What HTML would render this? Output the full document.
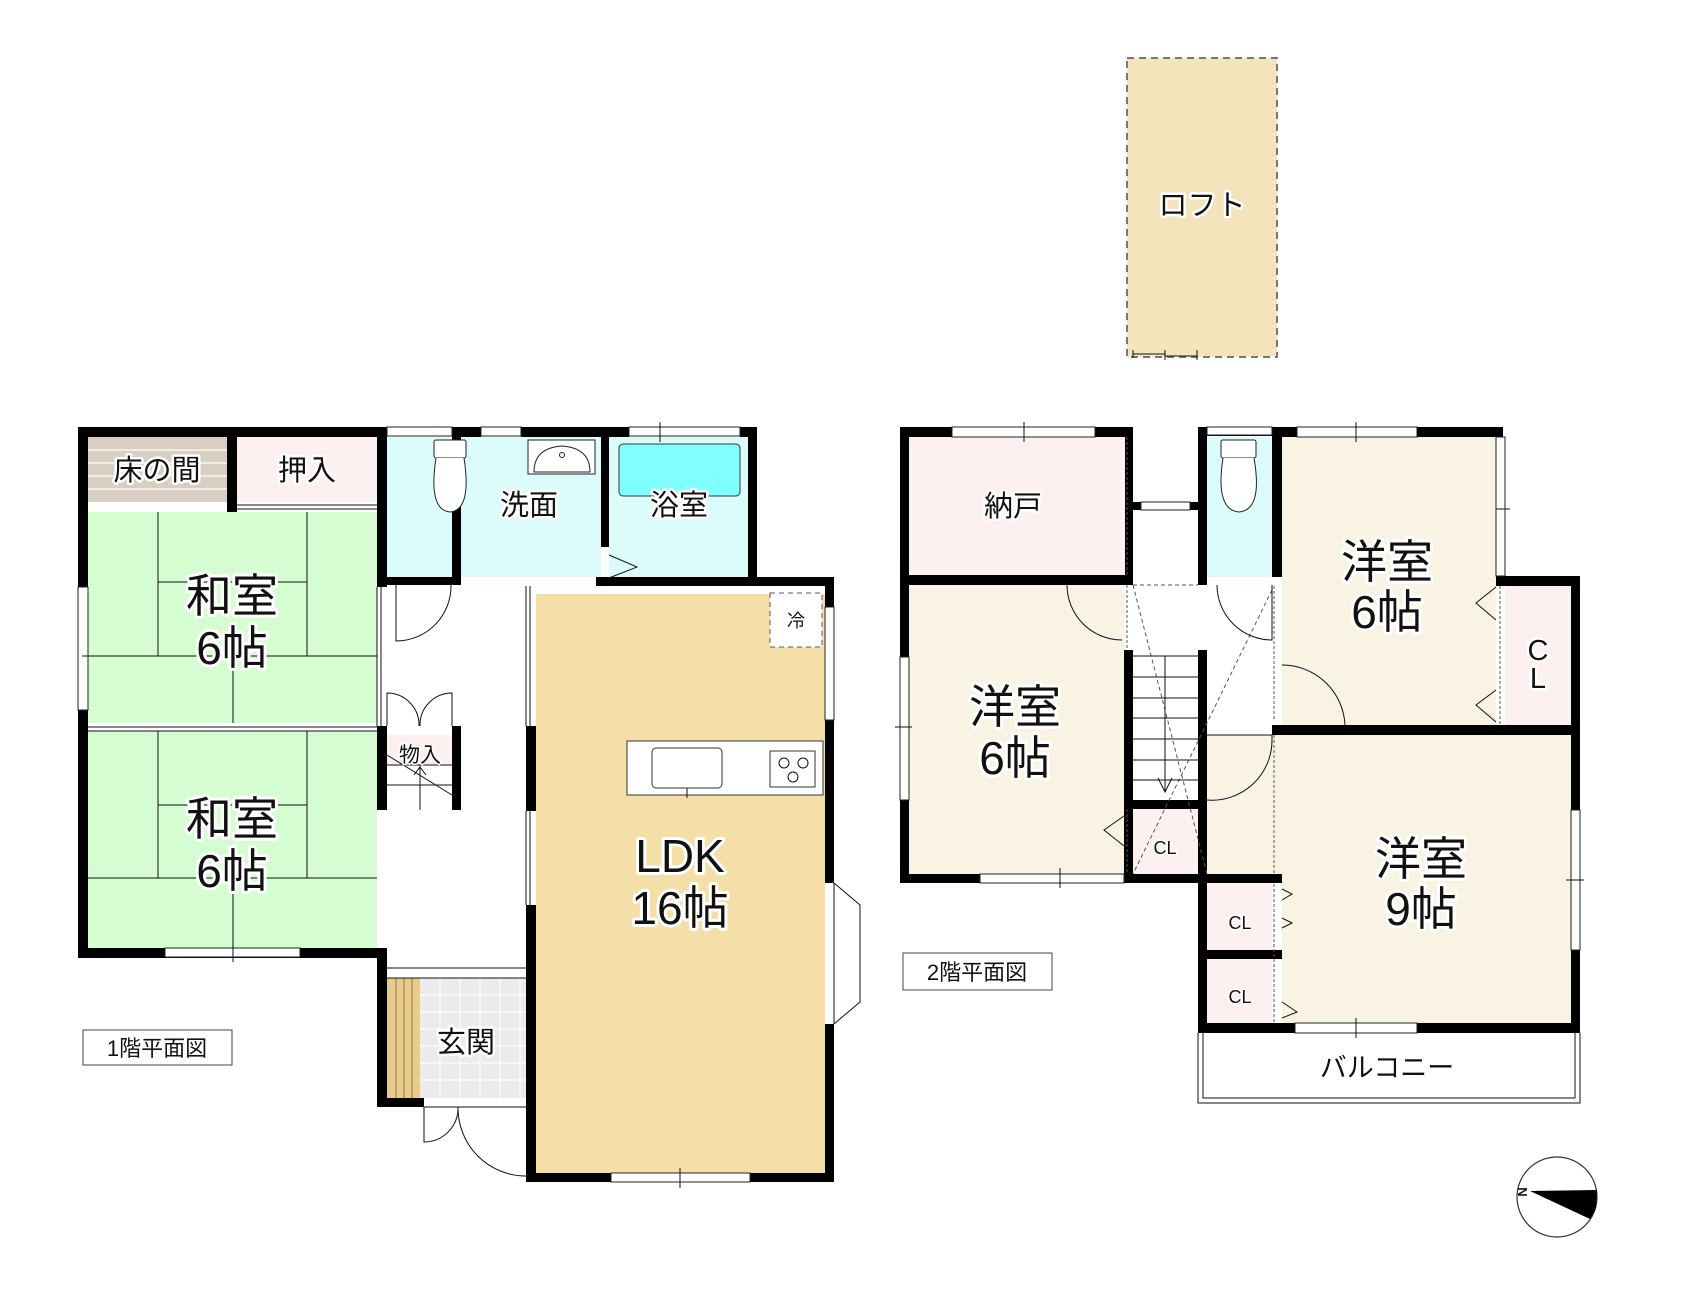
<!DOCTYPE html>
<html><head><meta charset="utf-8"><style>
html,body{margin:0;padding:0;background:#fff}
svg{display:block}
text{font-family:"Liberation Sans","Noto Sans CJK JP",sans-serif;fill:#111;paint-order:stroke;stroke:#fff;stroke-linejoin:round}
.big{font-size:46px;stroke-width:6px}
.mid{font-size:29px;stroke-width:5px}
.sm{font-size:21px;stroke-width:3px}
.lbl{font-size:22px;stroke:none}
.w{fill:#000}
.ln{stroke:#222;stroke-width:1.5;fill:none}
.th{stroke:#111;stroke-width:1;fill:none}
</style></head><body>
<svg width="1682" height="1305" viewBox="0 0 1682 1305" xmlns="http://www.w3.org/2000/svg">
<!-- LOFT -->
<rect x="1127" y="58" width="150" height="299" fill="#f4e4bc" stroke="#777" stroke-width="2" stroke-dasharray="7,5"/>
<path d="M1133 350 V358 M1133 354 H1165 M1165 350 V360 M1165 356 H1197 M1197 350 V360" class="th"/>
<text x="1202" y="215" class="mid" text-anchor="middle">ロフト</text>

<!-- ===== FLOOR 1 ===== -->
<!-- fills -->
<rect x="87" y="437" width="140" height="65" fill="#d8cfc2"/>
<path d="M87 450H227 M87 463H227 M87 476H227 M87 489H227" stroke="#f0ece6" stroke-width="2"/>
<rect x="237" y="437" width="140" height="65" fill="#fdf0f0"/>
<rect x="87" y="502" width="290" height="10" fill="#fff"/>
<rect x="87" y="512" width="290" height="211" fill="#d6fcd2"/>
<rect x="87" y="731" width="290" height="219" fill="#d6fcd2"/>
<rect x="387" y="437" width="65" height="140" fill="#dcfcfc"/>
<rect x="461" y="437" width="140" height="140" fill="#dcfcfc"/>
<rect x="609" y="437" width="139" height="140" fill="#dcfcfc"/>
<rect x="536" y="594" width="289" height="579" fill="#f5dfa8"/>
<rect x="420" y="978" width="106" height="120" fill="#ebebeb"/>
<path d="M440 978V1098 M460 978V1098 M480 978V1098 M500 978V1098 M520 978V1098 M420 995H526 M420 1012H526 M420 1029H526 M420 1046H526 M420 1063H526 M420 1080H526" stroke="#fafafa" stroke-width="1.5"/>
<rect x="387" y="978" width="33" height="120" fill="#e9cc8a"/>
<path d="M396 978V1098 M404 978V1098 M412 978V1098" stroke="#8a7a50" stroke-width="1"/>
<rect x="387" y="735" width="65" height="30" fill="#fdf0f0"/>
<!-- tatami lines -->
<path d="M158 512V656 M307 512V656 M158 582H307 M87 656H377 M233 656V723" class="th"/>
<path d="M158 731V878 M307 731V878 M158 805H307 M87 878H377 M233 878V950" class="th"/>
<!-- walls floor1 -->
<rect class="w" x="78" y="427" width="309" height="10"/>
<rect class="w" x="78" y="427" width="10" height="160"/>
<rect class="w" x="78" y="710" width="10" height="248"/>
<rect class="w" x="78" y="948" width="309" height="10"/>
<rect class="w" x="78" y="723" width="10" height="8"/>
<rect class="w" x="227" y="427" width="10" height="85"/>
<rect class="w" x="377" y="427" width="10" height="160"/>
<rect class="w" x="377" y="577" width="84" height="8"/>
<rect class="w" x="452" y="427" width="9" height="158"/>
<rect class="w" x="461" y="427" width="20" height="10"/>
<rect class="w" x="521" y="427" width="88" height="10"/>
<rect class="w" x="601" y="427" width="8" height="120"/>
<rect class="w" x="609" y="427" width="20" height="10"/>
<rect class="w" x="740" y="427" width="17" height="10"/>
<rect class="w" x="748" y="427" width="9" height="158"/>
<rect class="w" x="596" y="577" width="238" height="9"/>
<rect class="w" x="825" y="577" width="9" height="30"/>
<rect class="w" x="825" y="720" width="9" height="163"/>
<rect class="w" x="825" y="1024" width="9" height="158"/>
<rect class="w" x="526" y="726" width="10" height="85"/>
<rect class="w" x="526" y="905" width="10" height="277"/>
<rect class="w" x="526" y="1173" width="85" height="9"/>
<rect class="w" x="750" y="1173" width="84" height="9"/>
<rect class="w" x="377" y="726" width="10" height="84"/>
<rect class="w" x="452" y="726" width="9" height="84"/>
<rect class="w" x="377" y="958" width="10" height="149"/>
<rect class="w" x="377" y="1098" width="47" height="9"/>
<!-- windows / thin lines floor1 -->
<rect x="78" y="587" width="10" height="123" fill="#fff" stroke="#222"/>
<rect x="165" y="948" width="135" height="9" fill="#fff" stroke="#222"/>
<rect x="387" y="427" width="65" height="9" fill="#fff" stroke="#222"/>
<rect x="481" y="427" width="40" height="9" fill="#fff" stroke="#222"/>
<rect x="629" y="427" width="111" height="9" fill="#fff" stroke="#222"/>
<rect x="611" y="1173" width="139" height="9" fill="#fff" stroke="#222"/>
<path d="M680 1168V1188 M233 943V962 M660 422V442 M82 656H96" class="th"/>
<path d="M377 587V726 M381 587V726 M526 586V726 M530 586V726 M526 811V905 M530 811V905" class="th"/>
<path d="M237 505H377 M237 509H377 M87 727H377 M87 731H377" class="th"/>
<rect x="825" y="607" width="9" height="113" fill="#fff" stroke="#222"/>
<path d="M834 883L860 905V1002L834 1024" class="th"/>
<path d="M834 883V1024" class="th"/>
<path d="M387 968H526 M387 978H526" class="th"/>
<path d="M424 1107H526" class="th"/>
<!-- doors floor1 -->
<path d="M396 585V641 A55 55 0 0 0 451 585" class="th"/>
<path d="M387 726V693 A32 32 0 0 1 419 726 M452 726V693 A32 32 0 0 0 420 726" class="th"/>
<path d="M424 1107V1142 A34 34 0 0 0 458 1107" class="th"/>
<path d="M458 1107A68 68 0 0 0 526 1176" class="th"/>
<path d="M609 555L637 567L609 578" class="th"/>
<!-- stairs in 物入 -->
<path d="M387 765H452 M387 785H452 M420 765V810 M387 755L452 795 M414 775L420 767L426 775" class="th"/>
<!-- fixtures -->
<rect x="434" y="440" width="32" height="18" fill="#fff" stroke="#222" rx="2"/>
<path d="M436 458 Q428 510 450 512 Q472 510 464 458" fill="#fff" stroke="#222"/>
<rect x="528" y="440" width="67" height="34" fill="#fff" stroke="#222"/>
<path d="M534 472 Q534 448 562 446 Q590 448 590 472Z" fill="#fff" stroke="#222"/>
<circle cx="562" cy="455" r="2.5" fill="none" stroke="#222"/>
<rect x="619" y="444" width="121" height="52" fill="#80ffff" stroke="#333" rx="4"/>
<rect x="627" y="741" width="196" height="54" fill="#fff" stroke="#333"/>
<rect x="652" y="748" width="70" height="40" fill="#fff" stroke="#333" rx="4"/>
<path d="M687 788V798" class="th"/>
<rect x="770" y="751" width="45" height="36" fill="#fff" stroke="#333"/>
<circle cx="784" cy="763" r="5" class="th"/><circle cx="803" cy="763" r="5" class="th"/><circle cx="793" cy="777" r="5" class="th"/>
<rect x="770" y="593" width="52" height="54" fill="#fff" stroke="#555" stroke-dasharray="5,4"/>
<!-- labels floor1 -->
<text x="157" y="480" class="mid" text-anchor="middle">床の間</text>
<text x="307" y="480" class="mid" text-anchor="middle">押入</text>
<text x="232" y="612" class="big" text-anchor="middle">和室</text>
<text x="232" y="664" class="big" text-anchor="middle">6帖</text>
<text x="232" y="835" class="big" text-anchor="middle">和室</text>
<text x="232" y="887" class="big" text-anchor="middle">6帖</text>
<text x="529" y="515" class="mid" text-anchor="middle">洗面</text>
<text x="679" y="515" class="mid" text-anchor="middle">浴室</text>
<text x="796" y="627" class="sm" text-anchor="middle" style="font-size:18px">冷</text>
<text x="420" y="762" class="sm" text-anchor="middle">物入</text>
<text x="680" y="872" class="big" text-anchor="middle">LDK</text>
<text x="680" y="924" class="big" text-anchor="middle">16帖</text>
<text x="466" y="1052" class="mid" text-anchor="middle">玄関</text>
<rect x="83" y="1030" width="149" height="35" fill="#fff" stroke="#444"/>
<text x="157" y="1056" class="lbl" text-anchor="middle">1階平面図</text>

<!-- ===== FLOOR 2 ===== -->
<rect x="909" y="437" width="216" height="138" fill="#fdf0f0"/>
<rect x="909" y="585" width="216" height="289" fill="#f8f3e3"/>
<rect x="1207" y="437" width="65" height="140" fill="#dcfcfc"/>
<rect x="1282" y="437" width="214" height="288" fill="#f8f3e3"/>
<rect x="1505" y="586" width="66" height="139" fill="#fdf0f0"/>
<rect x="1282" y="735" width="289" height="288" fill="#f8f3e3"/>
<rect x="1207" y="735" width="75" height="140" fill="#f8f3e3"/>
<rect x="1133" y="809" width="65" height="65" fill="#fdf0f0"/>
<rect x="1207" y="884" width="65" height="66" fill="#fdf0f0"/>
<rect x="1207" y="959" width="65" height="64" fill="#fdf0f0"/>
<!-- walls floor2 -->
<rect class="w" x="900" y="427" width="232" height="10"/>
<rect class="w" x="900" y="427" width="9" height="230"/>
<rect class="w" x="900" y="800" width="9" height="83"/>
<rect class="w" x="900" y="575" width="232" height="10"/>
<rect class="w" x="1125" y="427" width="8" height="158"/>
<rect class="w" x="1125" y="502" width="16" height="8"/>
<rect class="w" x="1190" y="502" width="17" height="8"/>
<rect class="w" x="1198" y="427" width="9" height="158"/>
<rect class="w" x="1198" y="427" width="84" height="9"/>
<rect class="w" x="1272" y="427" width="10" height="150"/>
<rect class="w" x="1282" y="427" width="15" height="10"/>
<rect class="w" x="1417" y="427" width="86" height="10"/>
<rect class="w" x="1496" y="576" width="84" height="10"/>
<rect class="w" x="1571" y="576" width="9" height="234"/>
<rect class="w" x="1571" y="950" width="9" height="83"/>
<rect class="w" x="1272" y="725" width="308" height="10"/>
<rect class="w" x="1124" y="650" width="9" height="233"/>
<rect class="w" x="1198" y="650" width="9" height="383"/>
<rect class="w" x="1124" y="800" width="83" height="9"/>
<rect class="w" x="900" y="874" width="80" height="9"/>
<rect class="w" x="1124" y="874" width="158" height="9"/>
<rect class="w" x="1198" y="950" width="84" height="9"/>
<rect class="w" x="1198" y="1023" width="97" height="10"/>
<rect class="w" x="1417" y="1023" width="163" height="10"/>
<rect class="w" x="1272" y="1023" width="10" height="10"/>
<!-- windows floor2 -->
<rect x="952" y="427" width="143" height="10" fill="#fff" stroke="#222"/>
<rect x="1141" y="502" width="49" height="8" fill="#fff" stroke="#222"/>
<rect x="1207" y="427" width="65" height="8" fill="#fff" stroke="#222"/>
<rect x="1297" y="427" width="120" height="10" fill="#fff" stroke="#222"/>
<rect x="1496" y="437" width="9" height="139" fill="#fff" stroke="#222"/>
<rect x="900" y="657" width="9" height="143" fill="#fff" stroke="#222"/>
<rect x="980" y="874" width="144" height="9" fill="#fff" stroke="#222"/>
<rect x="1571" y="810" width="9" height="140" fill="#fff" stroke="#222"/>
<rect x="1295" y="1023" width="122" height="10" fill="#fff" stroke="#222"/>
<path d="M1024 422V442 M1356 422V442 M1496 509H1510 M895 727H912 M1060 868V888 M1356 1018V1038 M1566 880H1584" class="th"/>
<!-- balcony -->
<path d="M1198 1033V1103H1580V1033 M1203 1033V1098H1575V1033" class="th" stroke="#666"/>
<!-- sliding / dashed -->
<path d="M1127 437V575 M1127 585V650" stroke="#555" stroke-width="1" stroke-dasharray="3,2" fill="none"/>
<path d="M1274 735V874 M1127 809V874 M1274 586V720 M1500 586V725 M1274 884V1023" stroke="#555" stroke-width="1" stroke-dasharray="3,2" fill="none"/>
<path d="M1133 585H1198 M1133 585L1207 874 M1272 590L1133 874" stroke="#555" stroke-width="1" stroke-dasharray="4,3" fill="none"/>
<!-- stairs -->
<path d="M1133 656H1198 M1133 677H1198 M1133 698H1198 M1133 718H1198 M1133 739H1198 M1133 760H1198 M1133 780H1198 M1165 656V792 M1158 778L1165 792L1172 778" class="th"/>
<!-- doors floor2 -->
<path d="M1067 585A55 55 0 0 0 1122 640" class="th"/>
<path d="M1217 585A55 55 0 0 0 1272 640 V585" class="th"/>
<path d="M1282 665A63 63 0 0 1 1345 725" class="th"/>
<path d="M1207 735H1272V740 A60 60 0 0 1 1207 800" class="th"/>
<path d="M1496 587L1476 603L1496 620 M1496 690L1476 705L1496 722 M1124 816L1104 830L1124 846 M1282 889L1292 894L1282 900 M1282 918L1292 923L1282 928 M1282 1002L1297 1012L1282 1018" class="th"/>
<!-- toilet -->
<rect x="1221" y="440" width="35" height="18" fill="#fff" stroke="#222" rx="2"/>
<path d="M1223 458 Q1215 510 1239 512 Q1263 510 1254 458" fill="#fff" stroke="#222"/>
<!-- labels floor2 -->
<text x="1013" y="516" class="mid" text-anchor="middle">納戸</text>
<text x="1015" y="723" class="big" text-anchor="middle">洋室</text>
<text x="1015" y="774" class="big" text-anchor="middle">6帖</text>
<text x="1387" y="578" class="big" text-anchor="middle">洋室</text>
<text x="1387" y="628" class="big" text-anchor="middle">6帖</text>
<text x="1421" y="875" class="big" text-anchor="middle">洋室</text>
<text x="1421" y="925" class="big" text-anchor="middle">9帖</text>
<text x="1538" y="660" class="mid" text-anchor="middle">C</text>
<text x="1538" y="688" class="mid" text-anchor="middle">L</text>
<text x="1165" y="854" class="sm" text-anchor="middle" style="font-size:18px">CL</text>
<text x="1240" y="929" class="sm" text-anchor="middle" style="font-size:18px">CL</text>
<text x="1240" y="1003" class="sm" text-anchor="middle" style="font-size:18px">CL</text>
<text x="1387" y="1077" class="mid" text-anchor="middle" style="font-size:27px">バルコニー</text>
<rect x="903" y="953" width="149" height="37" fill="#fff" stroke="#444"/>
<text x="977" y="980" class="lbl" text-anchor="middle">2階平面図</text>
<!-- compass -->
<circle cx="1557" cy="1197" r="40" fill="#fff" stroke="#333" stroke-width="1.2"/>
<polygon points="1530,1191 1597,1190 1596,1208 1590,1219" fill="#000"/>
<text x="1523" y="1197" style="font-size:13px;stroke:none;font-weight:bold" transform="rotate(90 1523 1192)" text-anchor="middle">N</text>
</svg>
</body></html>
